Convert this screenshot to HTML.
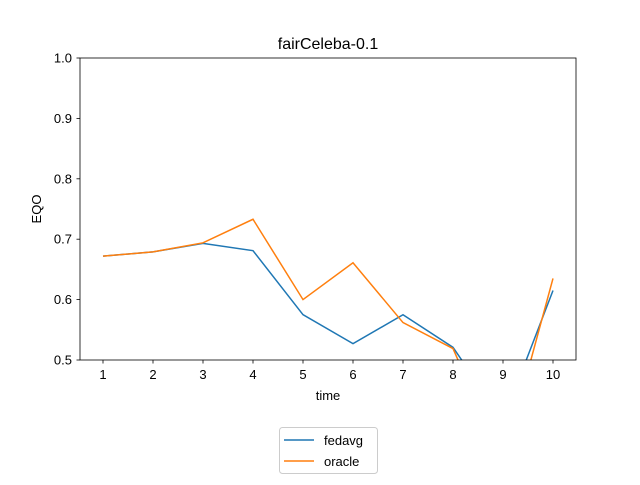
<!DOCTYPE html>
<html><head><meta charset="utf-8"><style>body{margin:0;background:#fff}svg{font-family:"Liberation Sans","DejaVu Sans",sans-serif}</style></head>
<body>
<svg width="640" height="480" viewBox="0 0 640 480">
<defs><clipPath id="plot-clip"><rect x="80" y="58" width="496" height="302"/></clipPath></defs>
<rect x="0" y="0" width="640" height="480" fill="#fff"/>
<text x="328" y="49" font-size="16" text-anchor="middle">fairCeleba-0.1</text>
<g id="axes"></g>
<g id="series" clip-path="url(#plot-clip)"></g>
<rect x="80" y="58" width="496" height="302" fill="none" stroke="#000" stroke-width="0.8"/>
<text x="328" y="400" font-size="13" text-anchor="middle">time</text>
<text transform="translate(41,209) rotate(-90)" font-size="13" text-anchor="middle">EQO</text>
<g>
<rect x="279.5" y="427.5" width="98" height="46" rx="3" fill="#fff" stroke="#ccc"/>
<g><line x1="284" y1="440" x2="314" y2="440" stroke="#1f77b4" stroke-width="1.5"/><text x="324" y="445" font-size="13">fedavg</text></g>
<g><line x1="284" y1="461" x2="314" y2="461" stroke="#ff7f0e" stroke-width="1.5"/><text x="324" y="466" font-size="13">oracle</text></g>
</g>
</svg>
<script>
const times = [1,2,3,4,5,6,7,8,9,10];
const fedavg = [0.672,0.679,0.693,0.681,0.575,0.527,0.575,0.521,0.40,0.615];
const oracle = [0.672,0.679,0.694,0.733,0.600,0.661,0.562,0.519,0.33,0.635];
const yTicks = [0.5,0.6,0.7,0.8,0.9,1.0];
const NS='http://www.w3.org/2000/svg';
const xs = t => 103 + (t-1)*50;
const ys = v => 360 - (v-0.5)/0.5*302;
const axes = document.getElementById('axes');
function mk(tag, attrs, parent){const e=document.createElementNS(NS,tag);for(const k in attrs)e.setAttribute(k,attrs[k]);parent.appendChild(e);return e;}
times.forEach(t=>{
  const g=mk('g',{},axes);
  
  
  mk('line',{x1:xs(t),x2:xs(t),y1:360,y2:363.5,stroke:'#000','stroke-width':0.8},g);
  const tx=mk('text',{x:xs(t),y:379,'font-size':13,'text-anchor':'middle'},g);tx.textContent=t;
});
yTicks.forEach(v=>{
  const g=mk('g',{},axes);
  
  
  mk('line',{x1:76.5,x2:80,y1:ys(v),y2:ys(v),stroke:'#000','stroke-width':0.8},g);
  const tx=mk('text',{x:72,y:ys(v)+4.5,'font-size':13,'text-anchor':'end'},g);tx.textContent=v.toFixed(1);
});
const ser=document.getElementById('series');
[[fedavg,'#1f77b4','fedavg-line'],[oracle,'#ff7f0e','oracle-line']].forEach(([d,c,n])=>{
  const p=mk('polyline',{points:d.map((v,i)=>xs(times[i])+','+ys(v)).join(' '),fill:'none',stroke:c,'stroke-width':1.5},ser);
  
  
});
</script>
</body></html>
